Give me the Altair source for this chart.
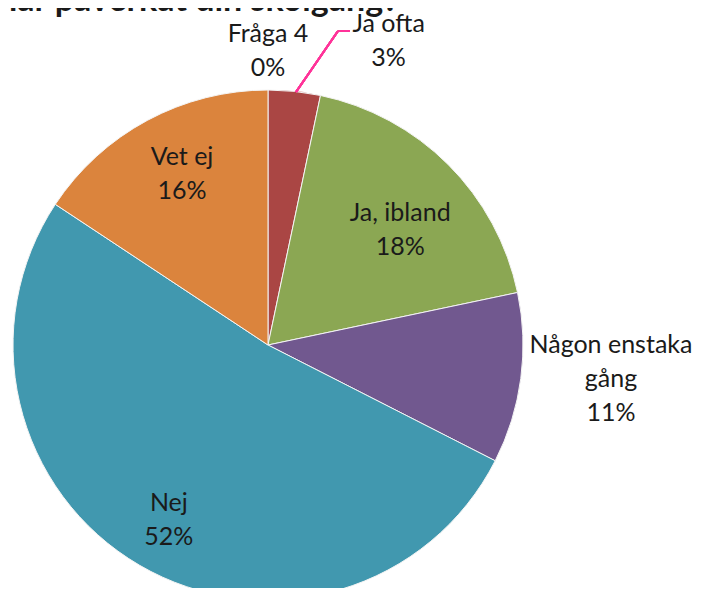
import altair as alt
import pandas as pd

categories = ["Fråga 4", "Ja ofta", "Ja, ibland", "Någon enstaka gång", "Nej", "Vet ej"]
values = [0.0, 3.3, 18.4, 10.8, 51.8, 15.7]
label_text = ["Fråga 4\n0%", "Ja ofta\n3%", "Ja, ibland\n18%", "Någon enstaka\ngång\n11%", "Nej\n52%", "Vet ej\n16%"]
colors = ["#4F81BD", "#AA4644", "#8BA753", "#71588F", "#4198AF", "#DB843D"]
# label placement (layout only): radius of first text line, and pixel nudges
label_radius = [313, 325, 187, 350, 181, 207]
label_dx = [0, 87, 0, -4, -8, 12]
label_dy = [2, 2, 0, -46, 2, -6]

df = pd.DataFrame({
    "cat": categories,
    "val": values,
    "order": list(range(len(categories))),
    "label": label_text,
    "lr": label_radius,
})

CX, CY, R = 260, 337, 255
FONT = "Lato"

theta_scale = alt.Scale(domain=[0, 100])
theta = alt.Theta("val:Q", stack=True, scale=theta_scale)
order = alt.Order("order:Q")

base = alt.Chart(df)

pie = base.mark_arc(x=CX, y=CY, outerRadius=R, stroke="#f4f4f4", strokeWidth=1).encode(
    theta=theta,
    order=order,
    color=alt.Color("cat:N", scale=alt.Scale(domain=categories, range=colors), legend=None),
)

lab_base = base.transform_window(
    cum="sum(val)", sort=[alt.SortField("order")], frame=[None, 0]
).transform_calculate(mid="datum.cum - datum.val / 2")

def label_layer(cat, dx, dy):
    return lab_base.transform_filter(alt.datum.cat == cat).mark_text(
        x=CX, y=CY, font=FONT, fontSize=25, lineBreak="\n", lineHeight=34,
        align="center", baseline="middle", color="#1a1a1a", dx=dx, dy=dy
    ).encode(
        theta=alt.Theta("mid:Q", stack=None, scale=theta_scale),
        radius=alt.Radius("lr:Q", scale=None),
        text="label:N",
    )

labels = [label_layer(c, dx, dy) for c, dx, dy in zip(categories, label_dx, label_dy)]

leader1 = base.mark_rule(color="#FF3399", strokeWidth=2).encode(
    x=alt.value(288), y=alt.value(84), x2=alt.value(330), y2=alt.value(23)
)
leader2 = base.mark_rule(color="#FF3399", strokeWidth=2).encode(
    x=alt.value(330), y=alt.value(23), x2=alt.value(342), y2=alt.value(23)
)

title_df = pd.DataFrame({"t": ["har påverkat din skolgång?"]})
title = alt.Chart(title_df).mark_text(
    font=FONT, fontSize=34, fontWeight="bold", align="left", baseline="alphabetic", color="#1a1a1a"
).encode(x=alt.value(-10), y=alt.value(3), text="t:N")

chart = alt.layer(pie, leader1, leader2, *labels, title).properties(
    width=690, height=580, padding=0,
    autosize=alt.AutoSizeParams(type="none")
).configure_view(stroke="transparent", strokeWidth=0)

chart.save("out.html", embed_options={"renderer": "svg", "actions": False})
